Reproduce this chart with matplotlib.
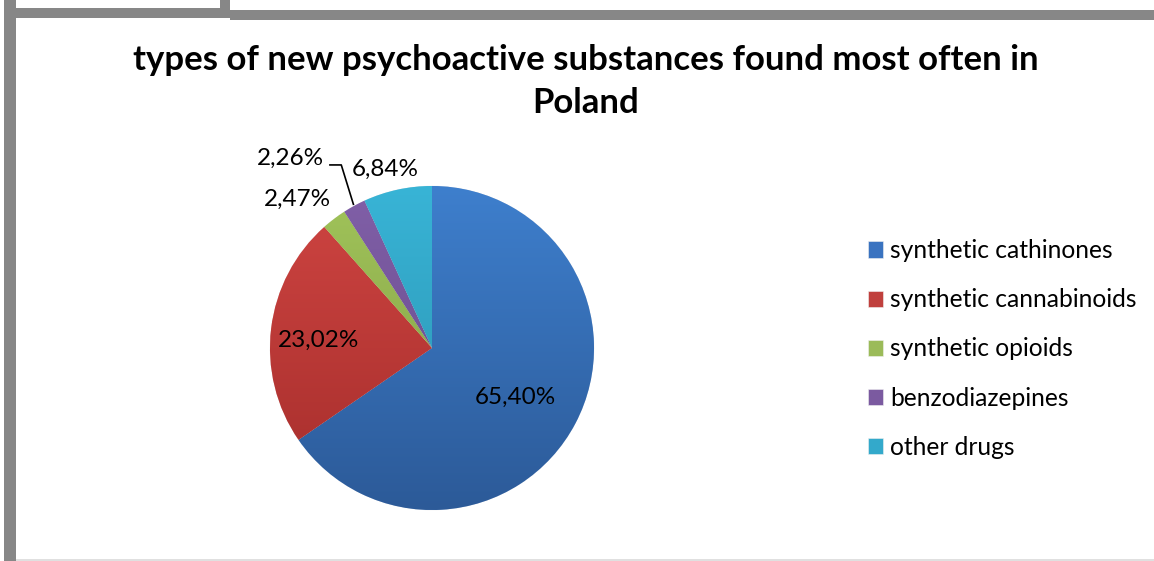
import matplotlib.pyplot as plt
import numpy as np
from matplotlib.colors import to_rgb
from matplotlib.patches import Rectangle

# Data
categories = ["synthetic cathinones", "synthetic cannabinoids", "synthetic opioids",
              "benzodiazepines", "other drugs"]
shares = [65.40, 23.02, 2.47, 2.26, 6.84]
pct_labels = ["65,40%", "23,02%", "2,47%", "2,26%", "6,84%"]

# top (light) and bottom (dark) colour of each slice
light = ["#3e7fcd", "#cf4542", "#a1c45a", "#8160a8", "#38b4d6"]
dark = ["#2c5a98", "#a52d2b", "#7f9b43", "#624685", "#2a8fad"]
flat = ["#3a73c0", "#c0403d", "#9bbb59", "#7b5aa0", "#33a9cb"]

plt.rcParams['font.family'] = ['Lato', 'DejaVu Sans']

W, H = 1154, 561
fig = plt.figure(figsize=(W / 100, H / 100), dpi=100)

# gray frame pieces of the worksheet
bg = fig.add_axes([0, 0, 1, 1])
bg.set_xlim(0, W)
bg.set_ylim(H, 0)
bg.axis('off')
gray = "#878787"
bg.add_patch(Rectangle((4, 0), 12, H, color=gray, lw=0))
bg.add_patch(Rectangle((4, 8), 226, 10, color=gray, lw=0))
bg.add_patch(Rectangle((220, 0), 10, 18, color=gray, lw=0))
bg.add_patch(Rectangle((230, 10), W - 230, 10, color=gray, lw=0))
bg.add_patch(Rectangle((16, 559), W, 2, color="#e0e0e0", lw=0))

# title
bg.text(586, 60, "types of new psychoactive substances found most often in",
        ha='center', va='center', fontsize=25, fontweight='bold')
bg.text(586, 103, "Poland", ha='center', va='center', fontsize=25, fontweight='bold')

# pie axes: centre (432, 348), radius 162 px
cx, cy, R = 432, 348, 162
ax = fig.add_axes([(cx - R) / W, (H - cy - R) / H, 2 * R / W, 2 * R / H])
wedges, _ = ax.pie(shares, startangle=90, counterclock=False, radius=1,
                   colors=flat, wedgeprops=dict(linewidth=0.4, edgecolor="#f0f0f0"))
ax.set_xlim(-1, 1)
ax.set_ylim(-1, 1)
ax.set_aspect('equal')

# vertical gradient inside each slice
t = np.linspace(0, 1, 256)[:, None]
for w, c1, c2 in zip(wedges, light, dark):
    a, b = np.array(to_rgb(c1)), np.array(to_rgb(c2))
    img = (a[None, None, :] * (1 - t[:, :, None]) + b[None, None, :] * t[:, :, None])
    img = np.repeat(img, 2, axis=1)
    im = ax.imshow(img, extent=(-1, 1, -1, 1), origin='upper', zorder=w.get_zorder())
    im.set_clip_path(w)
ax.set_xlim(-1, 1)
ax.set_ylim(-1, 1)

# data labels (distance from centre, angle shift in degrees)
label_dist = [0.60, 0.70, 1.24, 1.46, 1.14]
label_shift = [-3, 3, 5, 8, 2.5]
for i, w in enumerate(wedges):
    mid = (w.theta1 + w.theta2) / 2 + label_shift[i]
    x = label_dist[i] * np.cos(np.radians(mid))
    y = label_dist[i] * np.sin(np.radians(mid))
    ax.text(x, y, pct_labels[i], ha='center', va='center', fontsize=17.5, clip_on=False)

# leader line for the small purple slice
w = wedges[3]
mid = np.radians((w.theta1 + w.theta2) / 2)
ex, ey = np.cos(mid), np.sin(mid)
ax.plot([ex * 1.0 - 0.005, -0.56, -0.63], [ey + 0.01, 1.13, 1.13], color='black',
        lw=1.2, clip_on=False)

# legend
leg = ax.legend(wedges, categories, loc='center left',
                bbox_to_anchor=((858 - (cx - R)) / (2 * R), 0.497),
                bbox_transform=ax.transAxes, frameon=False, fontsize=17.7,
                handlelength=0.62, handleheight=0.66, handletextpad=0.3,
                labelspacing=1.06, borderaxespad=0)

fig.savefig("out.png", dpi=100)
